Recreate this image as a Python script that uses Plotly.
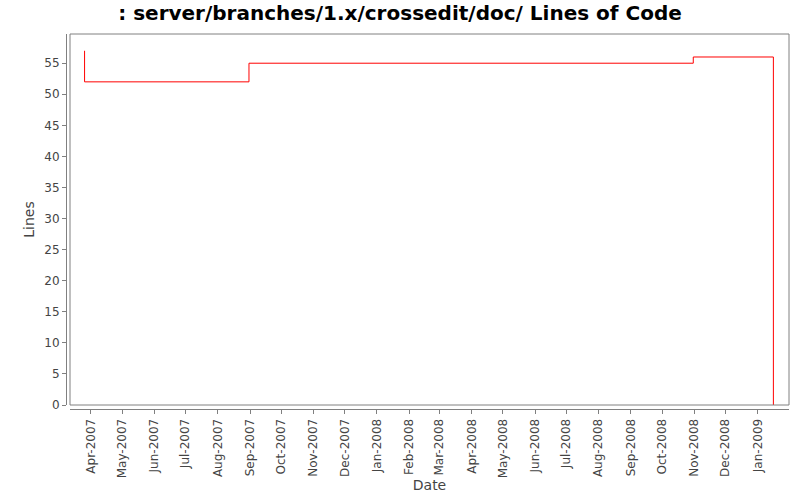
import plotly.graph_objects as go

dates = ["2007-03-26", "2007-03-26", "2007-08-31", "2008-10-31", "2009-01-16"]
lines = [57, 52, 55, 56, 0]

W, H = 800, 500
ml, mr, mt, mb = 66, 11, 34, 91
pw, ph = W - ml - mr, H - mt - mb
dx = 4 / pw
dy = 4 / ph

fig = go.Figure()
fig.add_trace(go.Scatter(x=dates, y=lines, mode="lines", line=dict(color="#ff0000", width=1, shape="hv"),
                         showlegend=False, hoverinfo="x+y"))

axfont = dict(family="DejaVu Sans", size=12, color="#444444")
fig.update_layout(
    width=W, height=H,
    margin=dict(l=ml, r=mr, t=mt, b=mb, autoexpand=False),
    paper_bgcolor="white", plot_bgcolor="white",
    title=dict(text=": server/branches/1.x/crossedit/doc/ Lines of Code", x=0.5, xanchor="center",
               xref="container", y=1 - 13 / H, yanchor="middle",
               font=dict(family="DejaVu Sans", size=20, color="black", weight="bold")),
    xaxis=dict(domain=[dx, 1], anchor="free", position=0, type="date", automargin=False,
               range=["2007-03-12", "2009-01-31"],
               tick0="2007-04-01", dtick="M1", tickformat="%b-%Y", tickangle=-90,
               showgrid=False, zeroline=False, showline=True, linecolor="#808080", linewidth=1,
               ticks="outside", ticklen=4, tickcolor="#808080", tickfont=axfont,
               title=dict(text="Date", font=dict(family="DejaVu Sans", size=14, color="#444444"), standoff=2)),
    yaxis=dict(domain=[dy, 1], anchor="free", position=0, automargin=False,
               range=[0, 59.7], tick0=0, dtick=5,
               showgrid=False, zeroline=False, showline=True, linecolor="#808080", linewidth=1,
               ticks="outside", ticklen=4, tickcolor="#808080", tickfont=axfont,
               title=dict(text="Lines", font=dict(family="DejaVu Sans", size=14, color="#444444"), standoff=5)),
    shapes=[dict(type="rect", xref="x domain", yref="y domain", x0=0, x1=1, y0=0, y1=1,
                 line=dict(color="#808080", width=1), layer="above")],
)

fig.write_html("out.html", config={"displayModeBar": False},
               post_script="document.body.style.margin='0';")
